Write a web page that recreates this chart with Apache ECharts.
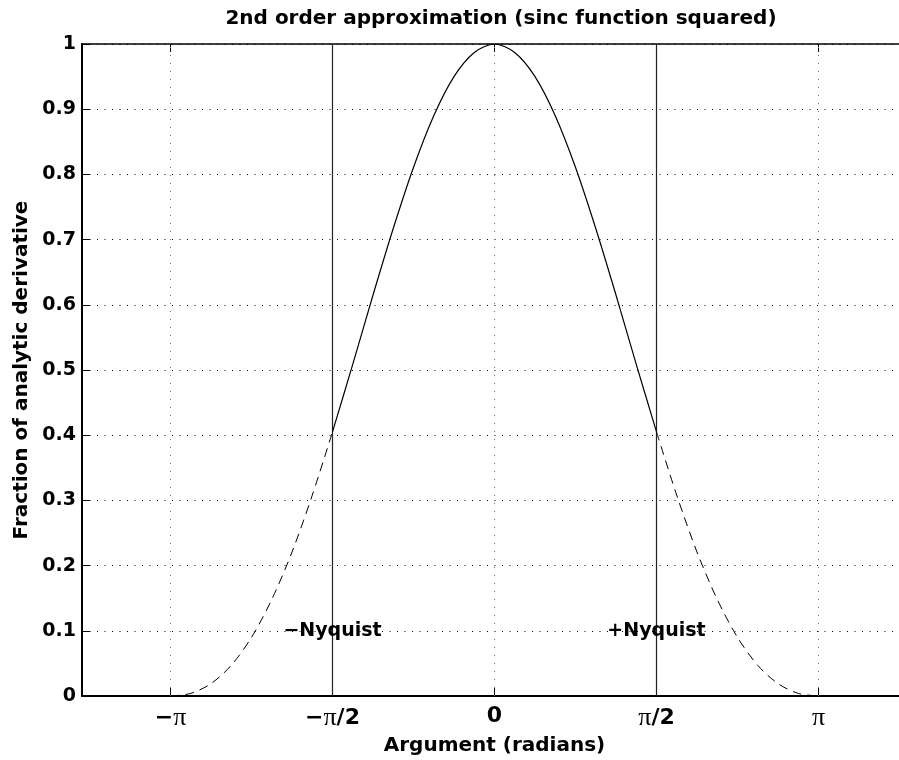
<!DOCTYPE html>
<html><head><meta charset="utf-8">
<script src="https://cdn.jsdelivr.net/npm/echarts@6/dist/echarts.min.js"></script>
<style>html,body{margin:0;padding:0;background:#fff}#c{width:899px;height:760px}</style>
</head><body><div id="c"></div>
<script>
// ---- data ----
const titleText = '2nd order approximation (sinc function squared)';
const xAxisName = 'Argument (radians)';
const yAxisName = 'Fraction of analytic derivative';
const xTickValues = [-3.1416, -1.5708, 0, 1.5708, 3.1416];
const xTickLabels = ['{m|−}{p|π}', '{m|−}{p|π}{n|/2}', '{n|0}', '{p|π}{n|/2}', '{p|π}'];
const yTickLabels = ['0', '0.1', '0.2', '0.3', '0.4', '0.5', '0.6', '0.7', '0.8', '0.9', '1'];
const gridXValues = [-3.1416, 0, 3.1416];
const nyquistX = [-1.5708, 1.5708];
const nyquistLabels = ['−Nyquist', '+Nyquist'];
const nyquistLabelY = [0.1, 0.1];

// dashed part left of -Nyquist
const xLeft = [-3.142, -2.945, -2.749, -2.553, -2.356, -2.160, -1.963, -1.767, -1.571];
const yLeft = [0.000, 0.004, 0.019, 0.047, 0.090, 0.148, 0.221, 0.308, 0.405];
// solid part between -Nyquist and +Nyquist
const xMid = [-1.571, -1.374, -1.178, -0.982, -0.785, -0.589, -0.393, -0.196, 0,
              0.196, 0.393, 0.589, 0.785, 0.982, 1.178, 1.374, 1.571];
const yMid = [0.405, 0.509, 0.615, 0.717, 0.811, 0.890, 0.950, 0.987, 1.000,
              0.987, 0.950, 0.890, 0.811, 0.717, 0.615, 0.509, 0.405];
// dashed part right of +Nyquist
const xRight = [1.571, 1.767, 1.963, 2.160, 2.356, 2.553, 2.749, 2.945, 3.142];
const yRight = [0.405, 0.308, 0.221, 0.148, 0.090, 0.047, 0.019, 0.004, 0.000];

const zip = (xs, ys) => xs.map((x, i) => [x, ys[i]]);
const FONT = 'DejaVu Sans';

const chart = echarts.init(document.getElementById('c'), null, {renderer: 'canvas'});
chart.setOption({
  backgroundColor: '#fff',
  animation: false,
  title: {
    text: titleText,
    left: 501,
    top: 9,
    textAlign: 'center',
    padding: 0,
    textStyle: {fontFamily: FONT, fontWeight: 'bold', fontSize: 20, color: '#000'}
  },
  grid: {left: 82, right: -8, top: 44, bottom: 64, containLabel: false, outerBoundsMode: 'none',
         show: true, borderColor: '#000', borderWidth: 1.5, backgroundColor: 'transparent'},
  xAxis: [{
    type: 'value', min: -4, max: 4,
    name: xAxisName, nameLocation: 'middle', nameGap: 35,
    nameTextStyle: {fontFamily: FONT, fontWeight: 'bold', fontSize: 20, color: '#000'},
    axisLine: {show: true, onZero: false, lineStyle: {color: '#000', width: 2}},
    axisTick: {show: true, inside: true, length: 8, customValues: xTickValues, lineStyle: {color: '#000', width: 1}},
    axisLabel: {
      show: true, margin: 9, customValues: xTickValues,
      formatter: function (v) {
        let best = 0;
        for (let i = 1; i < xTickValues.length; i++) if (Math.abs(xTickValues[i] - v) < Math.abs(xTickValues[best] - v)) best = i;
        return xTickLabels[best];
      },
      rich: {
        m: {fontFamily: FONT, fontWeight: 'bold', fontSize: 22, color: '#000'},
        n: {fontFamily: FONT, fontWeight: 'bold', fontSize: 22, color: '#000'},
        p: {fontFamily: 'Liberation Serif', fontSize: 26, color: '#000'}
      }
    },
    splitLine: {show: false}
  }, {
    type: 'value', min: -4, max: 4, position: 'top',
    axisLine: {show: false, onZero: false},
    axisTick: {show: true, inside: true, length: 8, customValues: xTickValues, lineStyle: {color: '#000', width: 1}},
    axisLabel: {show: false},
    splitLine: {show: false}
  }],
  yAxis: {
    type: 'value', min: 0, max: 1, interval: 0.1,
    name: yAxisName, nameLocation: 'middle', nameGap: 50, nameRotate: 90,
    nameTextStyle: {fontFamily: FONT, fontWeight: 'bold', fontSize: 20, color: '#000'},
    axisLine: {show: true, onZero: false, lineStyle: {color: '#000', width: 2}},
    axisTick: {show: true, inside: true, length: 8, lineStyle: {color: '#000', width: 1}},
    axisLabel: {
      margin: 6,
      formatter: function (v) { return yTickLabels[Math.round(v * 10)]; },
      fontFamily: FONT, fontWeight: 'bold', fontSize: 19, color: '#000'
    },
    splitLine: {show: true, lineStyle: {color: '#000', width: 1, type: [1, 6.5]}}
  },
  series: [
    {
      type: 'line', data: zip(xMid, yMid), smooth: 0.3, symbol: 'none',
      lineStyle: {color: '#000', width: 1.2, type: 'solid'}, z: 5,
      markLine: {
        silent: true, symbol: 'none', label: {show: false}, animation: false,
        data: [
          ...gridXValues.map(v => ({xAxis: v, lineStyle: {color: '#777', width: 1, type: [1, 7]}})),
          ...nyquistX.map(v => ({xAxis: v, lineStyle: {color: '#222', width: 1.2, type: 'solid'}}))
        ]
      }
    },
    {
      type: 'line', data: zip(xLeft, yLeft), smooth: 0.3, symbol: 'none',
      lineStyle: {color: '#000', width: 1, type: [9, 6]}, z: 5
    },
    {
      type: 'line', data: zip(xRight, yRight), smooth: 0.3, symbol: 'none',
      lineStyle: {color: '#000', width: 1, type: [9, 6]}, z: 5
    },
    {
      type: 'scatter', data: zip(nyquistX, nyquistLabelY), symbol: 'circle', symbolSize: 0,
      itemStyle: {color: 'rgba(0,0,0,0)', opacity: 1}, z: 10, silent: true,
      label: {
        show: true, position: 'inside', align: 'center', verticalAlign: 'middle',
        formatter: function (p) { return nyquistLabels[p.dataIndex]; },
        fontFamily: FONT, fontWeight: 'bold', fontSize: 19, color: '#000', opacity: 1
      }
    }
  ]
});
</script>
</body></html>
